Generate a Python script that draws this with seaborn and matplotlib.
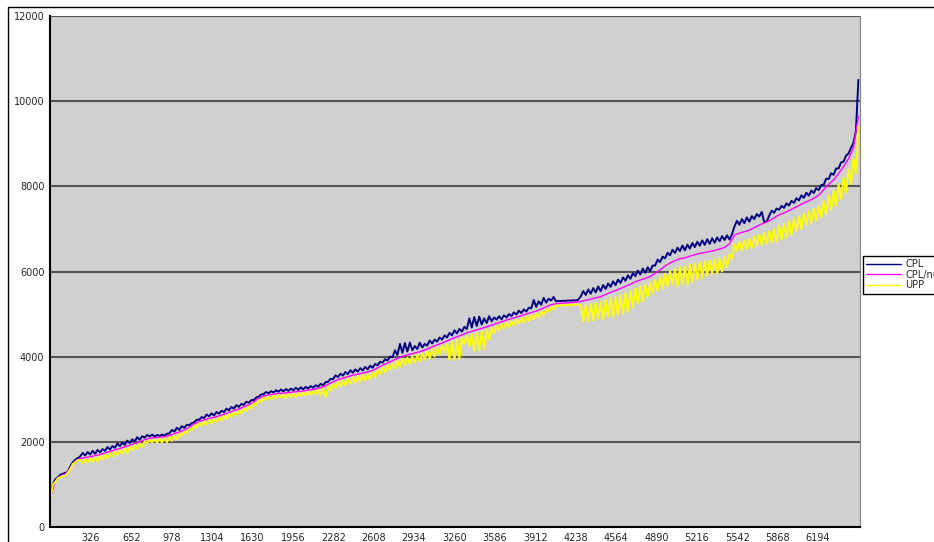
import numpy as np
import matplotlib
matplotlib.use("Agg")
import matplotlib.pyplot as plt
from matplotlib.patches import Rectangle
import seaborn as sns

# readings along the category axis: CPL and UPP every 20 records,
# CPL/num every 40 records
step_fine = 20
step_coarse = 40

cpl = [720, 1010, 1120, 1170, 1230, 1250, 1270, 1300, 1420, 1520,
       1580, 1620, 1660, 1740, 1680, 1760, 1700, 1790, 1720, 1810,
       1750, 1830, 1790, 1880, 1820, 1900, 1860, 1960, 1900, 1980,
       1930, 2030, 1970, 2060, 2010, 2110, 2050, 2130, 2100, 2160,
       2130, 2170, 2125, 2160, 2140, 2170, 2150, 2190, 2200, 2280,
       2240, 2330, 2280, 2370, 2330, 2400, 2390, 2440, 2460, 2520,
       2520, 2580, 2560, 2640, 2600, 2670, 2620, 2700, 2660, 2730,
       2700, 2780, 2740, 2820, 2780, 2860, 2820, 2890, 2870, 2940,
       2920, 2980, 2980, 3040, 3060, 3110, 3120, 3170, 3140, 3190,
       3160, 3210, 3175, 3230, 3185, 3240, 3195, 3250, 3210, 3270,
       3220, 3280, 3235, 3290, 3255, 3310, 3270, 3330, 3300, 3360,
       3330, 3400, 3410, 3480, 3470, 3560, 3520, 3600, 3555, 3640,
       3590, 3680, 3625, 3700, 3650, 3730, 3675, 3760, 3700, 3790,
       3740, 3830, 3800, 3880, 3860, 3940, 3910, 4000, 3985, 4150,
       4040, 4300, 4090, 4320, 4120, 4330, 4150, 4250, 4180, 4330,
       4215, 4300, 4260, 4380, 4310, 4400, 4355, 4450, 4400, 4500,
       4450, 4560, 4500, 4620, 4545, 4650, 4590, 4700, 4650, 4900,
       4685, 4930, 4720, 4940, 4755, 4900, 4790, 4950, 4830, 4920,
       4870, 4950, 4880, 4970, 4920, 5000, 4955, 5040, 4990, 5080,
       5025, 5110, 5060, 5150, 5135, 5330, 5170, 5300, 5220, 5380,
       5270, 5360, 5320, 5400, 5300, 5310, 5305, 5315, 5310, 5320,
       5315, 5325, 5320, 5340, 5420, 5540, 5450, 5580, 5480, 5610,
       5510, 5650, 5540, 5680, 5590, 5720, 5640, 5770, 5680, 5810,
       5730, 5860, 5780, 5910, 5830, 5960, 5890, 6020, 5930, 6070,
       5970, 6100, 6010, 6140, 6140, 6280, 6220, 6350, 6310, 6440,
       6380, 6510, 6435, 6560, 6480, 6610, 6500, 6630, 6540, 6670,
       6575, 6700, 6605, 6730, 6625, 6760, 6650, 6780, 6675, 6800,
       6710, 6830, 6740, 6850, 6750, 6880, 7060, 7190, 7100, 7230,
       7135, 7270, 7170, 7300, 7230, 7350, 7290, 7400, 7160, 7170,
       7310, 7430, 7380, 7480, 7450, 7540, 7495, 7600, 7550, 7660,
       7610, 7720, 7670, 7790, 7730, 7850, 7780, 7900, 7840, 7960,
       7910, 8030, 8040, 8180, 8170, 8310, 8270, 8420, 8420, 8560,
       8580, 8720, 8770, 8900, 9020, 9300, 10500]

cpl_num = [700, 1090, 1200, 1240, 1390, 1555, 1610, 1630, 1650, 1675,
           1700, 1740, 1775, 1810, 1845, 1880, 1920, 1960, 2000, 2050,
           2085, 2095, 2110, 2120, 2150, 2190, 2230, 2280, 2340, 2420,
           2480, 2515, 2550, 2575, 2610, 2650, 2690, 2730, 2770, 2820,
           2870, 2940, 3020, 3075, 3100, 3120, 3135, 3145, 3155, 3170,
           3180, 3195, 3215, 3230, 3260, 3290, 3350, 3410, 3460, 3495,
           3530, 3565, 3590, 3615, 3640, 3680, 3740, 3800, 3850, 3905,
           3960, 4010, 4040, 4070, 4100, 4135, 4180, 4230, 4275, 4320,
           4370, 4420, 4465, 4510, 4560, 4595, 4630, 4665, 4700, 4740,
           4780, 4820, 4860, 4895, 4930, 4965, 5000, 5035, 5070, 5120,
           5170, 5220, 5245, 5255, 5262, 5270, 5280, 5295, 5325, 5350,
           5380, 5410, 5460, 5510, 5555, 5600, 5650, 5700, 5760, 5800,
           5840, 5880, 5960, 6040, 6130, 6200, 6255, 6300, 6320, 6360,
           6395, 6425, 6445, 6470, 6495, 6530, 6565, 6650, 6860, 6900,
           6935, 6970, 7030, 7090, 7140, 7190, 7260, 7330, 7375, 7430,
           7490, 7550, 7610, 7660, 7720, 7790, 7920, 8050, 8150, 8300,
           8460, 8650, 8900, 9650]

upp = [680, 1000, 1060, 1150, 1170, 1200, 1210, 1270, 1360, 1480,
       1520, 1570, 1570, 1500, 1590, 1520, 1610, 1530, 1635, 1540,
       1660, 1580, 1700, 1610, 1735, 1650, 1770, 1690, 1805, 1720,
       1840, 1740, 1880, 1800, 1920, 1840, 1960, 1880, 2010, 1960,
       2045, 1990, 2055, 1980, 2070, 1990, 2080, 1990, 2110, 2020,
       2150, 2060, 2190, 2140, 2240, 2200, 2300, 2270, 2380, 2340,
       2440, 2380, 2475, 2400, 2510, 2440, 2535, 2470, 2570, 2500,
       2610, 2540, 2650, 2580, 2690, 2620, 2730, 2670, 2780, 2720,
       2830, 2780, 2900, 2860, 2980, 2940, 3035, 2990, 3060, 3000,
       3080, 3020, 3095, 3040, 3105, 3030, 3115, 3050, 3130, 3060,
       3140, 3080, 3155, 3090, 3175, 3110, 3190, 3120, 3220, 3100,
       3250, 3050, 3300, 3200, 3360, 3260, 3410, 3300, 3445, 3330,
       3480, 3360, 3515, 3390, 3540, 3420, 3565, 3440, 3590, 3470,
       3630, 3510, 3690, 3580, 3750, 3640, 3800, 3690, 3845, 3720,
       3900, 3760, 3950, 3800, 3980, 3830, 4010, 3860, 4040, 3890,
       4075, 3920, 4120, 3960, 4170, 4000, 4215, 4050, 4260, 4100,
       4300, 3930, 4350, 3920, 4395, 3950, 4440, 4300, 4490, 4250,
       4525, 4150, 4560, 4160, 4595, 4170, 4630, 4400, 4670, 4550,
       4720, 4620, 4760, 4660, 4800, 4700, 4835, 4740, 4870, 4780,
       4905, 4800, 4940, 4840, 4975, 4880, 5010, 4920, 5060, 4980,
       5110, 5050, 5170, 5120, 5200, 5190, 5210, 5200, 5215, 5205,
       5220, 5210, 5230, 5220, 5200, 4820, 5220, 4830, 5240, 4850,
       5260, 4900, 5290, 4880, 5330, 4950, 5370, 4930, 5400, 4980,
       5440, 5000, 5490, 5050, 5540, 5150, 5600, 5250, 5650, 5300,
       5690, 5400, 5730, 5500, 5800, 5550, 5870, 5600, 5950, 5650,
       6010, 5700, 6060, 5650, 6100, 5700, 6120, 5680, 6160, 5750,
       6190, 5800, 6220, 5850, 6240, 5900, 6260, 5950, 6280, 5950,
       6320, 6000, 6350, 6100, 6400, 6300, 6650, 6480, 6700, 6500,
       6730, 6520, 6760, 6550, 6820, 6600, 6870, 6620, 6900, 6650,
       6950, 6680, 7000, 6700, 7080, 6750, 7120, 6800, 7180, 6850,
       7230, 6950, 7300, 7000, 7360, 7100, 7410, 7150, 7470, 7200,
       7540, 7280, 7650, 7350, 7780, 7450, 7900, 7550, 8050, 7700,
       8200, 7850, 8400, 8050, 8650, 8300, 9400]

x_ticks = [326, 652, 978, 1304, 1630, 1956, 2282, 2608, 2934, 3260,
           3586, 3912, 4238, 4564, 4890, 5216, 5542, 5868, 6194]
y_ticks = [0, 2000, 4000, 6000, 8000, 10000, 12000]

idx_fine = np.arange(len(cpl)) * step_fine
idx_coarse = np.arange(len(cpl_num)) * step_coarse

sns.set_style("white")
plt.rcParams["font.family"] = ["DejaVu Sans"]

fig = plt.figure(figsize=(9.34, 5.42), dpi=100)
ax = fig.add_axes([50 / 934, 15 / 542, 810 / 934, 511 / 542])
ax.set_facecolor("#d0d0d0")

sns.lineplot(x=idx_fine, y=cpl, ax=ax, color="#000080", lw=1.4, label="CPL",
             estimator=None, sort=False)
sns.lineplot(x=idx_coarse, y=cpl_num, ax=ax, color="#ff00ff", lw=1.0,
             label="CPL/num", estimator=None, sort=False)
sns.lineplot(x=idx_fine, y=upp, ax=ax, color="#ffff00", lw=1.4, label="UPP",
             estimator=None, sort=False)

ax.set_xlim(-4, 6533)
ax.set_ylim(0, 12000)
ax.set_xticks(x_ticks)
ax.set_yticks(y_ticks)
ax.tick_params(axis="both", labelsize=7, length=3, width=1, color="black",
               direction="out", pad=1)
ax.yaxis.grid(True, color="#555555", lw=1.5)
ax.set_axisbelow(True)
ax.spines["top"].set_visible(False)
ax.spines["right"].set_color("#808080")
ax.spines["left"].set_color("black")
ax.spines["bottom"].set_color("black")
ax.spines["left"].set_linewidth(1.5)
ax.spines["bottom"].set_linewidth(1.5)

ax.get_legend().remove()
handles, labels = ax.get_legend_handles_labels()
leg = fig.legend(handles, labels, loc="upper left",
                 bbox_to_anchor=(863 / 934, 1 - 256 / 542), fontsize=7,
                 frameon=True, fancybox=False, edgecolor="black", framealpha=1,
                 handlelength=3.6, labelspacing=0.05, borderpad=0.35,
                 handletextpad=0.4, borderaxespad=0)
leg.get_frame().set_linewidth(1.0)
for h in leg.get_lines():
    h.set_linewidth(1.0)

# outer chart border
fig.patches.append(Rectangle((8 / 934, -0.1), 1.0, 1.1 - 7 / 542,
                             transform=fig.transFigure, fill=False,
                             edgecolor="black", lw=1.0))

fig.savefig("out.png", dpi=100)
